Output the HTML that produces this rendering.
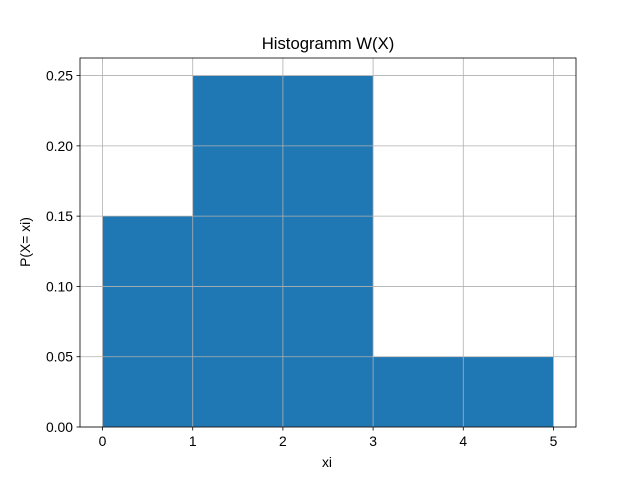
<!DOCTYPE html>
<html><head><meta charset="utf-8"><style>body{margin:0;background:#fff}svg{display:block;font-family:"Liberation Sans","DejaVu Sans",sans-serif}</style></head>
<body>
<svg id="chart" width="640" height="480" xmlns="http://www.w3.org/2000/svg">
<rect width="640" height="480" fill="#fff"/>
<text x="328" y="49" font-size="16.7" text-anchor="middle" fill="#000">Histogramm W(X)</text>
<text x="327" y="467" font-size="13.9" text-anchor="middle">xi</text>
<text transform="translate(30,242) rotate(-90)" font-size="13.9" text-anchor="middle">P(X= xi)</text>
<g id="bars"></g><g id="grid"></g><g id="ticks"></g>
<rect x="80" y="58" width="496" height="369" fill="none" stroke="#000" stroke-width="0.8"/>
</svg>
<script>
const binEdges = [0, 1, 2, 3, 4, 5];
const probs = [0.15, 0.25, 0.25, 0.05, 0.05];
const xTicks = [0, 1, 2, 3, 4, 5];
const yTicks = [0.00, 0.05, 0.10, 0.15, 0.20, 0.25];
const NS = "http://www.w3.org/2000/svg";
const L=80,R=576,T=58,B=427,xmin=-0.25,xmax=5.25,ymin=0,ymax=0.2625;
const X=v=>L+(v-xmin)/(xmax-xmin)*(R-L);
const Y=v=>B-(v-ymin)/(ymax-ymin)*(B-T);
function mk(tag,attrs,parent){const e=document.createElementNS(NS,tag);for(const k in attrs)e.setAttribute(k,attrs[k]);parent.appendChild(e);return e;}
const gb=document.getElementById('bars'),gg=document.getElementById('grid'),gt=document.getElementById('ticks');
probs.forEach((p,i)=>{
  const r=mk('rect',{x:X(binEdges[i]),y:Y(p),width:X(binEdges[i+1])-X(binEdges[i]),height:Y(0)-Y(p),fill:'#1f77b4'},gb);
  
  
});
xTicks.forEach(v=>{
  const x=X(v);
  const g=mk('line',{x1:x,x2:x,y1:T,y2:B,stroke:'#b0b0b0','stroke-width':0.8},gg);
  
  
  mk('line',{x1:x,x2:x,y1:B,y2:B+3.5,stroke:'#000','stroke-width':0.8},gt);
  const t=mk('text',{x:x,y:B+19,'font-size':13.9,'text-anchor':'middle'},gt);t.textContent=v;
  
  
});
yTicks.forEach(v=>{
  const y=Y(v);
  const g=mk('line',{x1:L,x2:R,y1:y,y2:y,stroke:'#b0b0b0','stroke-width':0.8},gg);
  
  
  mk('line',{x1:L-3.5,x2:L,y1:y,y2:y,stroke:'#000','stroke-width':0.8},gt);
  const t=mk('text',{x:L-7,y:y+5,'font-size':13.9,'text-anchor':'end'},gt);t.textContent=v.toFixed(2);
  
  
});
</script>
</body></html>
